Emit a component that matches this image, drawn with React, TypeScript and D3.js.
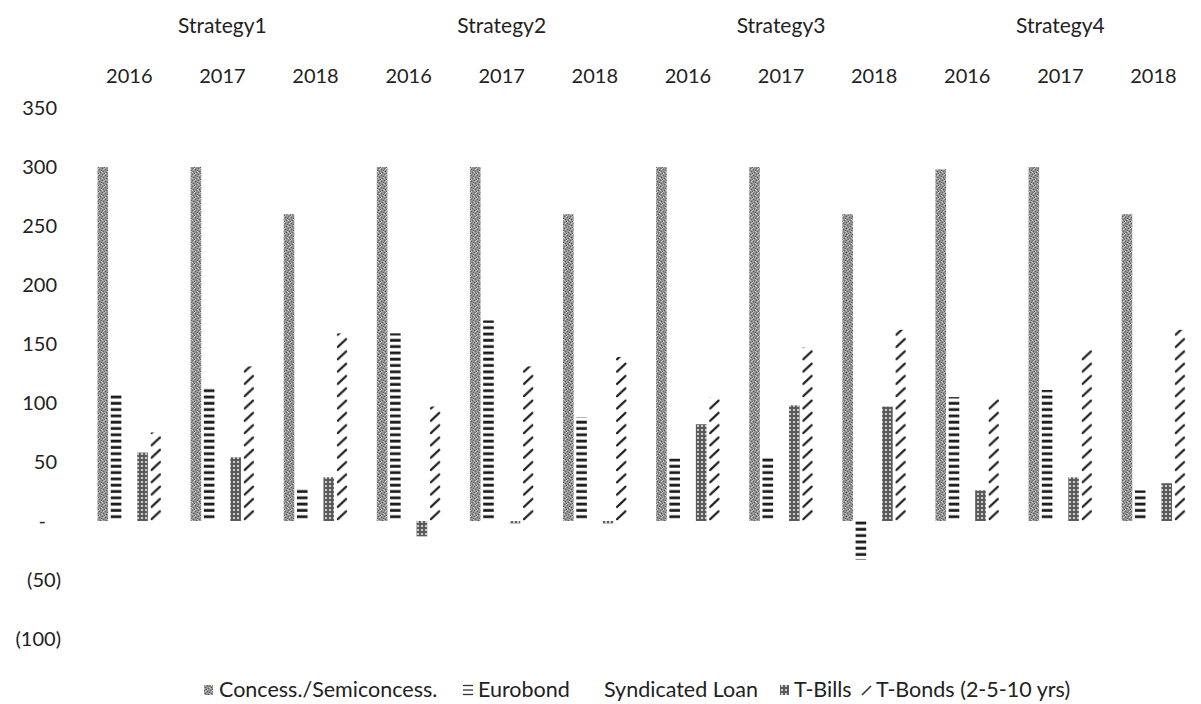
import * as d3 from "d3"

const strategies = ["Strategy1", "Strategy2", "Strategy3", "Strategy4"]
const years = ["2016", "2017", "2018"]
const seriesNames = ["Concess./Semiconcess.", "Eurobond", "Syndicated Loan", "T-Bills", "T-Bonds (2-5-10 yrs)"]

// one value per strategy/year group, in order S1-2016 ... S4-2018
const concess = [300, 300, 260, 300, 300, 260, 300, 300, 260, 298, 300, 260]
const eurobond = [108, 114, 28, 159, 170, 88, 53, 55, -33, 105, 111, 26]
const syndicated = [0, 0, 0, 0, 0, 0, 0, 0, 0, 0, 0, 0]
const tBills = [58, 54, 37, -13, -2, -2, 82, 98, 97, 26, 37, 32]
const tBonds = [75, 131, 159, 97, 131, 139, 105, 147, 162, 104, 145, 162]

const yTicks = [350, 300, 250, 200, 150, 100, 50, 0, -50, -100]

const W = 1201
const H = 704
const FONT = "Lato, 'Open Sans', sans-serif"

const seriesValues = [concess, eurobond, syndicated, tBills, tBonds]
const fills = ["url(#pConcess)", "url(#pEuro)", "none", "url(#pBills)", "url(#pBonds)"]

// speckle offsets for the grey stipple
const darkDots = [[0, 0], [3, 1], [1, 3], [4, 4], [2, 5], [5, 2]]
const lightDots = [[2, 0], [5, 3], [0, 4], [3, 5], [1, 1]]

function fmtTick(v: number) {
  if (v === 0) return "-"
  if (v < 0) return `(${Math.abs(v)})`
  return String(v)
}

export default function App() {
  const groups = strategies.flatMap((s) => years.map((y) => `${s}|${y}`))

  const x0 = d3.scaleBand().domain(groups).range([82.75, 1200]).paddingInner(0.26).paddingOuter(0.13)
  const x1 = d3.scaleBand().domain(seriesNames).range([0, x0.bandwidth()]).padding(0.2)
  const y = d3.scaleLinear().domain([-100, 350]).range([639, 108])

  const bw = x1.bandwidth()
  const bondsX = (x0(groups[0]) || 0) + (x1(seriesNames[4]) || 0)

  const legendItems = [
    { name: seriesNames[0], sw: 204, tx: 219, fill: fills[0] },
    { name: seriesNames[1], sw: 463, tx: 478, fill: "euro" },
    { name: seriesNames[2], sw: 592, tx: 604, fill: "none" },
    { name: seriesNames[3], sw: 780, tx: 794, fill: fills[3] },
    { name: seriesNames[4], sw: 862, tx: 876, fill: "bond" },
  ]

  return (
    <svg width={W} height={H} style={{ position: "absolute", left: 0, top: 0, background: "#fff" }}>
      <defs>
        <pattern id="pConcess" patternUnits="userSpaceOnUse" width={6} height={6}>
          <rect width={6} height={6} fill="#939393" />
          {darkDots.map(([a, b], i) => (
            <rect key={"d" + i} x={a} y={b} width={1} height={1} fill="#5a5a5a" />
          ))}
          {lightDots.map(([a, b], i) => (
            <rect key={"l" + i} x={a} y={b} width={1} height={1} fill="#c8c8c8" />
          ))}
        </pattern>
        <pattern id="pEuro" patternUnits="userSpaceOnUse" width={20} height={6.3} y={y(0)}>
          <rect x={0} y={0.6} width={20} height={2.8} fill="#1a1a1a" />
        </pattern>
        <pattern id="pBills" patternUnits="userSpaceOnUse" width={4} height={4}>
          <rect width={4} height={4} fill="#5a5a5a" />
          <circle cx={2} cy={2} r={1.1} fill="#e6e6e6" />
        </pattern>
        <pattern id="pBonds" patternUnits="userSpaceOnUse" x={bondsX} y={y(0)} width={x0.step()} height={12.3}>
          <line x1={1} y1={10.5} x2={bw - 1} y2={2.5} stroke="#1e1e1e" strokeWidth={2.2} strokeLinecap="round" />
        </pattern>
      </defs>

      {/* top category labels */}
      {strategies.map((s) => {
        const first = x0(`${s}|${years[0]}`) || 0
        const last = (x0(`${s}|${years[2]}`) || 0) + x0.bandwidth()
        return (
          <text key={s} x={(first + last) / 2} y={33} textAnchor="middle" fontFamily={FONT} fontSize={21} fill="#222">
            {s}
          </text>
        )
      })}
      {groups.map((g) => (
        <text
          key={g}
          x={(x0(g) || 0) + x0.bandwidth() / 2}
          y={83}
          textAnchor="middle"
          fontFamily={FONT}
          fontSize={20}
          fill="#222"
        >
          {g.split("|")[1]}
        </text>
      ))}

      {/* y ticks */}
      {yTicks.map((t) => (
        <text
          key={t}
          x={t === 0 ? 46 : t < 0 ? 61 : 57}
          y={y(t) + 7}
          textAnchor="end"
          fontFamily={FONT}
          fontSize={20}
          fill="#222"
        >
          {fmtTick(t)}
        </text>
      ))}

      {/* bars */}
      {seriesNames.map((s, si) => (
        <g key={s}>
          {groups.map((g, gi) => {
            const v = seriesValues[si][gi]
            if (v === 0) return null
            const top = Math.min(y(v), y(0))
            const h = Math.abs(y(v) - y(0))
            return (
              <rect
                key={g}
                x={(x0(g) || 0) + (x1(s) || 0)}
                y={top}
                width={bw}
                height={h}
                fill={fills[si]}
              />
            )
          })}
        </g>
      ))}

      {/* legend */}
      {legendItems.map((it) => (
        <g key={it.name}>
          {it.fill === "bond" ? (
            <line x1={it.sw} y1={695} x2={it.sw + 9} y2={686} stroke="#333" strokeWidth={1.6} />
          ) : it.fill === "euro" ? (
            <g stroke="#333" strokeWidth={1.3}>
              <line x1={it.sw} y1={685.5} x2={it.sw + 10} y2={685.5} />
              <line x1={it.sw} y1={690} x2={it.sw + 10} y2={690} />
              <line x1={it.sw} y1={694.5} x2={it.sw + 10} y2={694.5} />
            </g>
          ) : it.fill !== "none" ? (
            <rect x={it.sw} y={685} width={9} height={10} fill={it.fill} />
          ) : null}
          <text x={it.tx} y={697} fontFamily={FONT} fontSize={21.5} fill="#222">
            {it.name}
          </text>
        </g>
      ))}
    </svg>
  )
}
